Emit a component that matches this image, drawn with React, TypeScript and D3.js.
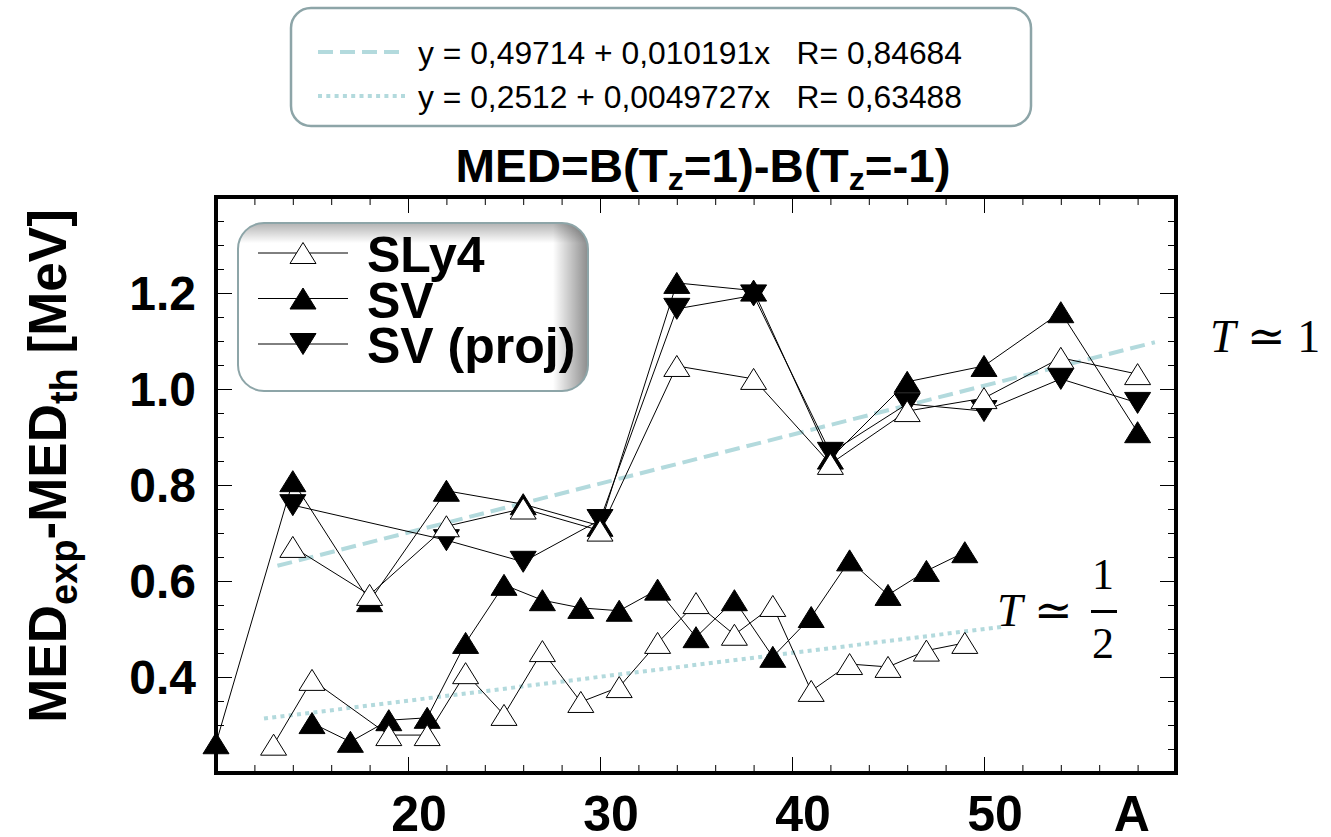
import { useEffect, useRef } from "react";
import * as d3 from "d3";

// T = 1 (even A)
const A_SLY4_T1 = [14, 18, 22, 26, 30, 34, 38, 42, 46, 50, 54, 58];
const SLY4_T1 = [0.671, 0.571, 0.714, 0.751, 0.705, 1.048, 1.021, 0.844, 0.954, 0.981, 1.065, 1.031];
const A_SV_T1 = [10, 14, 18, 22, 26, 30, 34, 38, 42, 46, 50, 54, 58];
const SV_T1 = [0.262, 0.808, 0.558, 0.788, 0.76, 0.715, 1.221, 1.205, 0.855, 1.015, 1.048, 1.16, 0.91];
const A_PROJ_T1 = [14, 22, 26, 30, 34, 38, 42, 46, 50, 54, 58];
const PROJ_T1 = [0.758, 0.685, 0.64, 0.727, 1.167, 1.195, 0.867, 0.969, 0.954, 1.021, 0.971];

// T = 1/2 (odd A)
const A_SLY4_T12 = [13, 15, 19, 21, 23, 25, 27, 29, 31, 33, 35, 37, 39, 41, 43, 45, 47, 49];
const SLY4_T12 = [0.259, 0.394, 0.279, 0.279, 0.408, 0.321, 0.454, 0.348, 0.379, 0.471, 0.554, 0.488, 0.548, 0.371, 0.427, 0.421, 0.455, 0.471];
const A_SV_T12 = [15, 17, 19, 21, 23, 25, 27, 29, 31, 33, 35, 37, 39, 41, 43, 45, 47, 49];
const SV_T12 = [0.304, 0.265, 0.31, 0.315, 0.471, 0.592, 0.56, 0.544, 0.538, 0.582, 0.483, 0.56, 0.442, 0.525, 0.643, 0.571, 0.621, 0.66];

// linear fits
const FIT_T1 = { a: 0.49714, b: 0.010191, from: 13.2, to: 58.9 };
const FIT_T12 = { a: 0.2512, b: 0.0049727, from: 12.5, to: 51 };
const FIT_LABELS = [
  "y = 0,49714 + 0,010191x   R= 0,84684",
  "y = 0,2512 + 0,0049727x   R= 0,63488",
];

const X_LABELS = [20, 30, 40, 50];
const Y_LABELS = [0.4, 0.6, 0.8, 1.0, 1.2];
const LEGEND = ["SLy4", "SV", "SV (proj)"];

const FIT_COLOR = "#b3dadd";
const BOX_STROKE = "#8da5a8";
const SANS = "'Liberation Sans', Arial, sans-serif";
const SERIF = "'Liberation Serif', 'DejaVu Serif', serif";

const UP = "M0,-10.5L13,10.5L-13,10.5Z";
const DOWN = "M0,10.5L13,-10.5L-13,-10.5Z";

export default function App() {
  const ref = useRef<SVGSVGElement>(null);

  useEffect(() => {
    if (!ref.current) return;
    const svg = d3.select(ref.current);
    svg.selectAll("*").remove();

    const m = { left: 216, right: 1176, top: 197, bottom: 773 };
    const x = d3.scaleLinear().domain([10, 60]).range([m.left, m.right]);
    const y = d3.scaleLinear().domain([0.2, 1.4]).range([m.bottom, m.top]);
    const w = m.right - m.left;
    const h = m.bottom - m.top;

    const defs = svg.append("defs");
    const gr = defs
      .append("linearGradient")
      .attr("id", "shadeR")
      .attr("x1", 0)
      .attr("x2", 1)
      .attr("y1", 0)
      .attr("y2", 0);
    gr.append("stop").attr("offset", "0.9").attr("stop-color", "#000").attr("stop-opacity", 0);
    gr.append("stop").attr("offset", "1").attr("stop-color", "#000").attr("stop-opacity", 0.45);
    const gt = defs
      .append("linearGradient")
      .attr("id", "shadeT")
      .attr("x1", 0)
      .attr("x2", 0)
      .attr("y1", 0)
      .attr("y2", 1);
    gt.append("stop").attr("offset", "0").attr("stop-color", "#000").attr("stop-opacity", 0.3);
    gt.append("stop").attr("offset", "0.12").attr("stop-color", "#000").attr("stop-opacity", 0);

    // Ticks (inward on all four sides)
    const tickSide = (
      axis: d3.Axis<d3.NumberValue>,
      tx: number,
      ty: number,
    ) => {
      svg
        .append("g")
        .attr("transform", `translate(${tx},${ty})`)
        .call(axis)
        .call((a) => {
          a.select(".domain").remove();
          a.selectAll("line").attr("stroke", "#000").attr("stroke-width", 1);
          a.selectAll("text").remove();
        });
    };
    const xMinor = d3.range(12, 60, 2).filter((v) => v % 10 !== 0);
    const xMajor = [20, 30, 40, 50];
    const yMinor = d3.range(5, 28).filter((k) => k % 4 !== 0).map((k) => k * 0.05);
    const yMajor = [0.4, 0.6, 0.8, 1.0, 1.2];
    tickSide(d3.axisBottom(x).tickValues(xMinor).tickSize(-8), 0, m.bottom);
    tickSide(d3.axisBottom(x).tickValues(xMajor).tickSize(-16), 0, m.bottom);
    tickSide(d3.axisTop(x).tickValues(xMinor).tickSize(-8), 0, m.top);
    tickSide(d3.axisTop(x).tickValues(xMajor).tickSize(-16), 0, m.top);
    tickSide(d3.axisLeft(y).tickValues(yMinor).tickSize(-8), m.left, 0);
    tickSide(d3.axisLeft(y).tickValues(yMajor).tickSize(-16), m.left, 0);
    tickSide(d3.axisRight(y).tickValues(yMinor).tickSize(-8), m.right, 0);
    tickSide(d3.axisRight(y).tickValues(yMajor).tickSize(-16), m.right, 0);

    // Fit lines
    const fitLine = (f: typeof FIT_T1) =>
      d3.line<number>()
        .x((v) => x(v))
        .y((v) => y(f.a + f.b * v))([f.from, f.to]);
    svg.append("path")
      .attr("d", fitLine(FIT_T1))
      .attr("stroke", FIT_COLOR)
      .attr("stroke-width", 4)
      .attr("stroke-dasharray", "15 7")
      .attr("fill", "none");
    svg.append("path")
      .attr("d", fitLine(FIT_T12))
      .attr("stroke", FIT_COLOR)
      .attr("stroke-width", 4)
      .attr("stroke-dasharray", "4 4.3")
      .attr("fill", "none");

    // Series
    const series = [
      { a: A_SV_T12, v: SV_T12, sym: UP, fill: "#000" },
      { a: A_SLY4_T12, v: SLY4_T12, sym: UP, fill: "#fff" },
      { a: A_SV_T1, v: SV_T1, sym: UP, fill: "#000" },
      { a: A_PROJ_T1, v: PROJ_T1, sym: DOWN, fill: "#000" },
      { a: A_SLY4_T1, v: SLY4_T1, sym: UP, fill: "#fff" },
    ];
    const line = d3
      .line<[number, number]>()
      .x((d) => x(d[0]))
      .y((d) => y(d[1]));
    series.forEach((s) => {
      const pts = s.a.map((a, i) => [a, s.v[i]] as [number, number]);
      svg.append("path")
        .attr("d", line(pts))
        .attr("stroke", "#000")
        .attr("stroke-width", 1)
        .attr("fill", "none");
    });
    series.forEach((s) => {
      const pts = s.a.map((a, i) => [a, s.v[i]] as [number, number]);
      svg.append("g")
        .selectAll("path")
        .data(pts)
        .join("path")
        .attr("transform", (d) => `translate(${x(d[0])},${y(d[1])})`)
        .attr("d", s.sym)
        .attr("fill", s.fill)
        .attr("stroke", "#000")
        .attr("stroke-width", 1);
    });

    // Frame
    svg.append("rect")
      .attr("x", m.left)
      .attr("y", m.top)
      .attr("width", w)
      .attr("height", h)
      .attr("fill", "none")
      .attr("stroke", "#000")
      .attr("stroke-width", 4);

    // Tick labels
    svg.append("g")
      .selectAll("text")
      .data(X_LABELS)
      .join("text")
      .attr("x", (d) => x(d) + 11)
      .attr("y", 831)
      .attr("text-anchor", "middle")
      .attr("font-family", SANS)
      .attr("font-weight", "bold")
      .attr("font-size", 50)
      .text((d) => d);
    svg.append("text")
      .attr("x", x(57.7))
      .attr("y", 831)
      .attr("text-anchor", "middle")
      .attr("font-family", SANS)
      .attr("font-weight", "bold")
      .attr("font-size", 50)
      .text("A");
    svg.append("g")
      .selectAll("text")
      .data(Y_LABELS)
      .join("text")
      .attr("x", 196)
      .attr("y", (d) => y(d))
      .attr("dy", "0.36em")
      .attr("text-anchor", "end")
      .attr("font-family", SANS)
      .attr("font-weight", "bold")
      .attr("font-size", 48)
      .text((d) => d.toFixed(1));

    // Y title
    const yt = svg.append("text")
      .attr("transform", "translate(66,466) rotate(-90)")
      .attr("text-anchor", "middle")
      .attr("font-family", SANS)
      .attr("font-weight", "bold")
      .attr("font-size", 53);
    yt.append("tspan").text("MED");
    yt.append("tspan").attr("font-size", 38).attr("dy", 11).text("exp");
    yt.append("tspan").attr("dy", -11).text("-MED");
    yt.append("tspan").attr("font-size", 38).attr("dy", 11).text("th");
    yt.append("tspan").attr("dy", -11).text(" [MeV]");

    // Title
    const tt = svg.append("text")
      .attr("x", 703)
      .attr("y", 182)
      .attr("text-anchor", "middle")
      .attr("font-family", SANS)
      .attr("font-weight", "bold")
      .attr("font-size", 46)
      .attr("textLength", 495)
      .attr("lengthAdjust", "spacingAndGlyphs");
    tt.append("tspan").text("MED=B(T");
    tt.append("tspan").attr("font-size", 31).attr("dy", 8).text("z");
    tt.append("tspan").attr("dy", -8).text("=1)-B(T");
    tt.append("tspan").attr("font-size", 31).attr("dy", 8).text("z");
    tt.append("tspan").attr("dy", -8).text("=-1)");

    // Fit legend box
    svg.append("rect")
      .attr("x", 291)
      .attr("y", 8)
      .attr("width", 740)
      .attr("height", 118)
      .attr("rx", 20)
      .attr("fill", "#fff")
      .attr("stroke", BOX_STROKE)
      .attr("stroke-width", 2.5);
    const fitRows = [
      { dash: "15 7", label: FIT_LABELS[0], cy: 52 },
      { dash: "4 4.3", label: FIT_LABELS[1], cy: 96 },
    ];
    fitRows.forEach((r) => {
      svg.append("line")
        .attr("x1", 318)
        .attr("x2", 405)
        .attr("y1", r.cy)
        .attr("y2", r.cy)
        .attr("stroke", FIT_COLOR)
        .attr("stroke-width", 4)
        .attr("stroke-dasharray", r.dash);
      svg.append("text")
        .attr("x", 418)
        .attr("y", r.cy + 12)
        .attr("font-family", SANS)
        .attr("font-size", 32)
        .attr("textLength", 544)
        .attr("lengthAdjust", "spacingAndGlyphs")
        .style("white-space", "pre")
        .text(r.label);
    });

    // Series legend box
    const lb = { x: 238, y: 223, w: 350, h: 168, r: 26 };
    svg.append("rect")
      .attr("x", lb.x).attr("y", lb.y).attr("width", lb.w).attr("height", lb.h).attr("rx", lb.r)
      .attr("fill", "#fff");
    svg.append("rect")
      .attr("x", lb.x).attr("y", lb.y).attr("width", lb.w).attr("height", lb.h).attr("rx", lb.r)
      .attr("fill", "url(#shadeR)");
    svg.append("rect")
      .attr("x", lb.x).attr("y", lb.y).attr("width", lb.w).attr("height", lb.h).attr("rx", lb.r)
      .attr("fill", "url(#shadeT)");
    svg.append("rect")
      .attr("x", lb.x).attr("y", lb.y).attr("width", lb.w).attr("height", lb.h).attr("rx", lb.r)
      .attr("fill", "none")
      .attr("stroke", BOX_STROKE)
      .attr("stroke-width", 2);
    const legSyms = [
      { sym: UP, fill: "#fff" },
      { sym: UP, fill: "#000" },
      { sym: DOWN, fill: "#000" },
    ];
    LEGEND.forEach((label, i) => {
      const cy = 253 + i * 45.5;
      svg.append("line")
        .attr("x1", 258).attr("x2", 348).attr("y1", cy).attr("y2", cy)
        .attr("stroke", "#000").attr("stroke-width", 1);
      svg.append("path")
        .attr("transform", `translate(303,${cy})`)
        .attr("d", legSyms[i].sym)
        .attr("fill", legSyms[i].fill)
        .attr("stroke", "#000");
      svg.append("text")
        .attr("x", 367)
        .attr("y", cy + 19)
        .attr("font-family", SANS)
        .attr("font-weight", "bold")
        .attr("font-size", 50)
        .text(label);
    });

    // T annotations
    const t1 = svg.append("text")
      .attr("x", 1210)
      .attr("y", 352)
      .attr("font-family", SERIF)
      .attr("font-size", 46);
    t1.append("tspan").attr("font-style", "italic").text("T");
    t1.append("tspan").text(" ≃ 1");

    const t2 = svg.append("text")
      .attr("x", 997)
      .attr("y", 626)
      .attr("font-family", SERIF)
      .attr("font-size", 46);
    t2.append("tspan").attr("font-style", "italic").text("T");
    t2.append("tspan").text(" ≃");
    svg.append("text")
      .attr("x", 1103).attr("y", 589)
      .attr("text-anchor", "middle")
      .attr("font-family", SERIF).attr("font-size", 44)
      .text("1");
    svg.append("line")
      .attr("x1", 1091).attr("x2", 1117).attr("y1", 611.5).attr("y2", 611.5)
      .attr("stroke", "#000").attr("stroke-width", 3);
    svg.append("text")
      .attr("x", 1103).attr("y", 658)
      .attr("text-anchor", "middle")
      .attr("font-family", SERIF).attr("font-size", 44)
      .text("2");
  }, []);

  return (
    <svg
      ref={ref}
      width={1331}
      height={837}
      style={{ position: "absolute", left: 0, top: 0, background: "#fff" }}
    />
  );
}
